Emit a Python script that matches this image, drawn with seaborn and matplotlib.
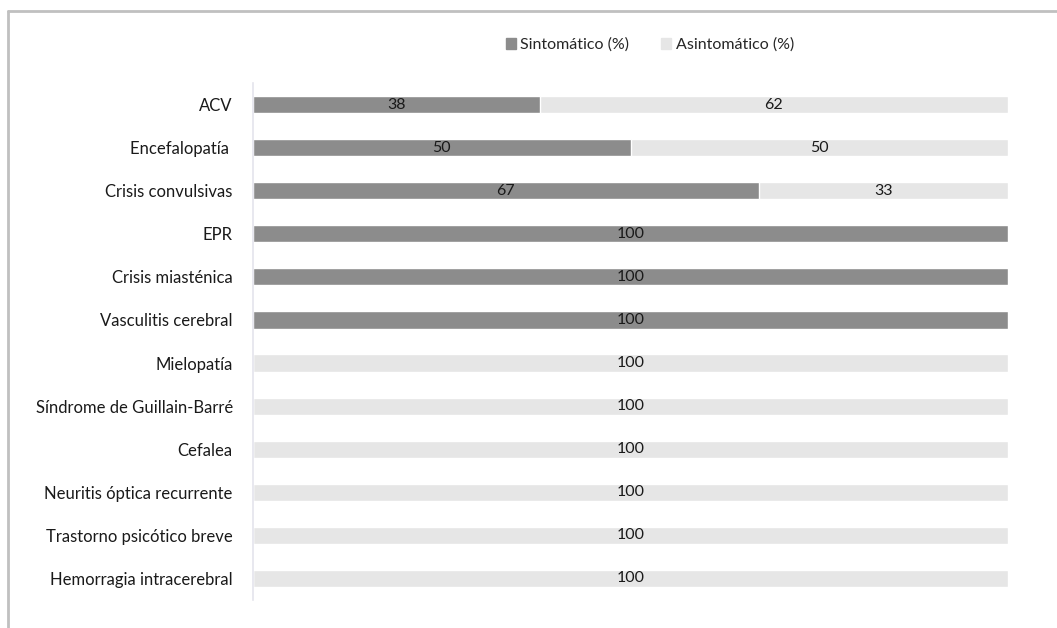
import matplotlib
matplotlib.use("Agg")
import matplotlib.pyplot as plt
from matplotlib.patches import Patch
from matplotlib.lines import Line2D
import pandas as pd
import seaborn as sns

# datos
categorias = ['ACV', 'Encefalopatía ', 'Crisis convulsivas', 'EPR', 'Crisis miasténica',
              'Vasculitis cerebral', 'Mielopatía', 'Síndrome de Guillain-Barré', 'Cefalea',
              'Neuritis óptica recurrente', 'Trastorno psicótico breve', 'Hemorragia intracerebral']
sintomatico = [38, 50, 67, 100, 100, 100, 0, 0, 0, 0, 0, 0]
asintomatico = [62, 50, 33, 0, 0, 0, 100, 100, 100, 100, 100, 100]

df = pd.DataFrame({'cat': categorias, 'sint': sintomatico, 'asint': asintomatico})
df['total'] = df['sint'] + df['asint']

sns.set_style('white')
plt.rcParams['font.family'] = ['Lato', 'DejaVu Sans']

col_sint = '#8c8c8c'
col_asint = '#e6e6e6'

fig = plt.figure(figsize=(10.57, 6.28), dpi=100)
ax = fig.add_axes([253 / 1057, 1 - 600 / 628, 755 / 1057, 517 / 628])

sns.barplot(data=df, y='cat', x='total', color=col_asint, orient='h', width=0.4,
            ax=ax, saturation=1)
sns.barplot(data=df, y='cat', x='sint', color=col_sint, orient='h', width=0.4,
            ax=ax, saturation=1)

# etiquetas de valores
for i, (s, a) in enumerate(zip(sintomatico, asintomatico)):
    if s > 0:
        ax.text(s / 2, i, str(s), ha='center', va='center', fontsize=11.5, color='#1a1a1a')
    if a > 0:
        ax.text(s + a / 2, i, str(a), ha='center', va='center', fontsize=11.5, color='#1a1a1a')

ax.set_xlim(0, 100)
ax.set_ylim(11.5, -0.5)
ax.set_xlabel('')
ax.set_ylabel('')
ax.set_xticks([])
ax.tick_params(axis='y', length=0, labelsize=12, pad=14.5, labelcolor='#1a1a1a')
for s in ['top', 'right', 'bottom']:
    ax.spines[s].set_visible(False)
ax.spines['left'].set_color('#e4e4ec')
ax.spines['left'].set_linewidth(1.2)

# leyenda
handles = [Patch(color=col_sint, label='Sintomático (%)'),
           Patch(color=col_asint, label='Asintomático (%)')]
fig.legend(handles=handles, loc='center', bbox_to_anchor=(650 / 1057, 1 - 45 / 628),
           ncol=2, frameon=False, fontsize=11.5, handlelength=0.6, handleheight=0.6,
           handletextpad=0.3, columnspacing=2.0)

# marco del gráfico
fig.add_artist(Line2D([8 / 1057, 1], [1 - 11 / 628, 1 - 11 / 628], color='#c0c0c0', lw=2))
fig.add_artist(Line2D([8 / 1057, 8 / 1057], [0, 1 - 11 / 628], color='#c0c0c0', lw=2))

fig.savefig('out.png', dpi=100)
